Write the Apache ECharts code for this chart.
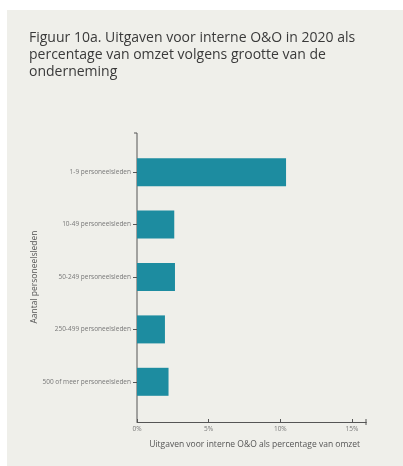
<!DOCTYPE html>
<html>
<head>
<meta charset="utf-8">
<script src="https://cdn.jsdelivr.net/npm/echarts@6/dist/echarts.min.js"></script>
<style>
html,body{margin:0;padding:0;background:#ffffff;width:403px;height:466px;overflow:hidden;}
#card{position:absolute;left:7px;top:10px;width:396px;height:456px;background:#efefea;}
#chart{position:absolute;left:0;top:0;width:403px;height:466px;}
</style>
</head>
<body>
<div id="card"></div>
<div id="chart"></div>
<script>
var titleText = 'Figuur 10a. Uitgaven voor interne O&O in 2020 als\npercentage van omzet volgens grootte van de\nonderneming';
var categories = ['1-9 personeelsleden', '10-49 personeelsleden', '50-249 personeelsleden', '250-499 personeelsleden', '500 of meer personeelsleden'];
var values = [10.4, 2.6, 2.65, 1.95, 2.2];
var xTicks = [0, 5, 10, 15];
var xAxisTitle = 'Uitgaven voor interne O&O als percentage van omzet';
var yAxisTitle = 'Aantal personeelsleden';

var chart = echarts.init(document.getElementById('chart'), null, {renderer: 'canvas'});
var axisColor = '#555555';
chart.setOption({
  backgroundColor: 'transparent',
  animation: false,
  title: {
    text: titleText,
    left: 24, top: 25,
    textStyle: {fontFamily: 'Open Sans', fontSize: 14, fontWeight: 'normal', color: '#3a3a3a', lineHeight: 17}
  },
  grid: {left: 137, top: 146, width: 229.3, height: 262, containLabel: false},
  xAxis: {
    type: 'value', min: 0, max: 16, interval: 5,
    offset: 14,
    axisLine: {show: true, lineStyle: {color: axisColor, width: 1}},
    axisTick: {show: true, inside: true, length: 3, customValues: xTicks, lineStyle: {color: axisColor}},
    axisLabel: {customValues: xTicks, formatter: '{value}%', fontFamily: 'Open Sans', fontSize: 6.5, color: '#777777', margin: 4},
    splitLine: {show: false},
    name: xAxisTitle, nameLocation: 'middle', nameGap: 18,
    nameTextStyle: {fontFamily: 'Open Sans', fontSize: 8.5, color: '#555555', padding: [0, 0, 0, 6]}
  },
  yAxis: {
    type: 'category', data: categories, inverse: true,
    axisLine: {show: false},
    axisTick: {show: true, alignWithLabel: true, length: 4, lineStyle: {color: axisColor}},
    axisLabel: {fontFamily: 'Open Sans', fontSize: 6.5, color: '#777777', margin: 6},
    name: yAxisTitle, nameLocation: 'middle', nameGap: 98, nameRotate: 90, nameMoveOverlap: false,
    nameTextStyle: {fontFamily: 'Open Sans', fontSize: 8.5, color: '#555555'}
  },
  graphic: [
    {type: 'line', shape: {x1: 137, y1: 133, x2: 137, y2: 422}, style: {stroke: axisColor, lineWidth: 1}},
    {type: 'line', shape: {x1: 134, y1: 133, x2: 137, y2: 133}, style: {stroke: axisColor, lineWidth: 1}},
    {type: 'line', shape: {x1: 366, y1: 419, x2: 366, y2: 425}, style: {stroke: axisColor, lineWidth: 1}}
  ],
  series: [{
    type: 'bar', data: values, barWidth: 28,
    itemStyle: {color: '#1d8ca0'}
  }]
});
</script>
</body>
</html>
